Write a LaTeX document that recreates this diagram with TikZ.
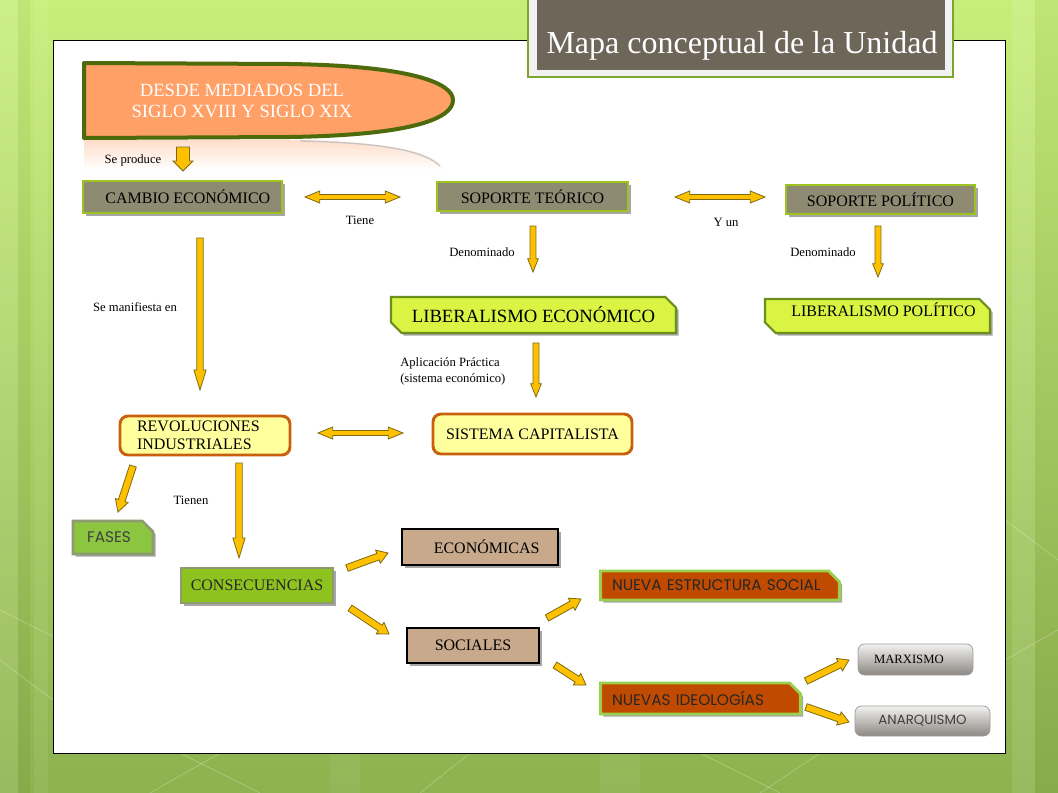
\documentclass[tikz,border=0pt]{standalone}
\usepackage{fontspec}
\setmainfont{Liberation Serif}
\newfontfamily\gothic{Poppins}
\usetikzlibrary{calc,shadows,shapes.misc}
\newdimen\pxu \pxu=0.75pt
\definecolor{bgtop}{HTML}{C8EE7A}
\definecolor{bgbot}{HTML}{8DB24E}
\definecolor{titlebg}{HTML}{6F665A}
\definecolor{titleframe}{HTML}{F2F2F2}
\definecolor{titleline}{HTML}{7DA52B}
\definecolor{desdefill}{HTML}{FFA066}
\definecolor{desdeline}{HTML}{4E6B0B}
\definecolor{kfill}{HTML}{8F8B73}
\definecolor{kborder}{HTML}{9CC31E}
\definecolor{limefill}{HTML}{D9F443}
\definecolor{limeline}{HTML}{6C8E1D}
\definecolor{yelfill}{HTML}{FFFF9E}
\definecolor{yelline}{HTML}{C8600E}
\definecolor{fasesfill}{HTML}{8CC640}
\definecolor{greyline}{HTML}{8E9A70}
\definecolor{consfill}{HTML}{8DC21F}
\definecolor{tanfill}{HTML}{C9A98B}
\definecolor{rustfill}{HTML}{C04B00}
\definecolor{rustline}{HTML}{9BD04E}
\definecolor{arrfill}{HTML}{FFC000}
\definecolor{arrline}{HTML}{7A6B12}
\definecolor{pilltop}{HTML}{F2F2F0}
\definecolor{pillbot}{HTML}{8C8782}
\tikzset{
  arrowst/.style={fill=arrfill, draw=arrline, line width=0.6pt, line join=miter},
  shad/.style={drop shadow={shadow xshift=2pt, shadow yshift=-2pt, opacity=.35, fill=black}},
  boxtext/.style={font=\fontsize{12}{13.5}\selectfont, inner sep=0pt, align=center},
  khaki/.style={boxtext, draw=kborder, fill=kfill, line width=2.2pt, shad},
  lime/.style={boxtext, draw=limeline, fill=limefill, line width=1.6pt, shad,
    chamfered rectangle, chamfered rectangle corners={north east, south west},
    chamfered rectangle xsep=4pt, chamfered rectangle ysep=4pt},
  yel/.style={boxtext, draw=yelline, fill=yelfill, line width=2.2pt, rounded corners=6pt},
  grn/.style={boxtext, draw=greyline, line width=2pt, shad},
  tan/.style={boxtext, draw=black, fill=tanfill, line width=2.2pt, shad},
  rust/.style={boxtext, font=\gothic\fontsize{11.5}{14}\selectfont, text=black!85, draw=rustline, fill=rustfill, line width=2.2pt, shad,
    chamfered rectangle, chamfered rectangle corners={north east}, chamfered rectangle xsep=4pt, chamfered rectangle ysep=4pt, align=left},
  pill/.style={boxtext, draw=gray!75, line width=0.6pt, rounded corners=5pt,
    top color=pilltop, bottom color=pillbot},
  lbl/.style={font=\fontsize{9.5}{11.5}\selectfont, inner sep=0pt, align=left}
}
% block arrow: start, end, half shaft, half head, head length
\newcommand\barrow[5]{%
  \filldraw[arrowst]
    ($(#1)!#3!90:(#2)$) --
    ($($(#2)!#5!(#1)$)!#3!90:(#2)$) --
    ($($(#2)!#5!(#1)$)!#4!90:(#2)$) --
    (#2) --
    ($($(#2)!#5!(#1)$)!#4!-90:(#2)$) --
    ($($(#2)!#5!(#1)$)!#3!-90:(#2)$) --
    ($(#1)!#3!-90:(#2)$) -- cycle;}
\newcommand\dbarrow[5]{%
  \filldraw[arrowst] (#1) --
    ($($(#1)!#5!(#2)$)!#4!90:(#2)$) --
    ($($(#1)!#5!(#2)$)!#3!90:(#2)$) --
    ($($(#2)!#5!(#1)$)!#3!-90:(#1)$) --
    ($($(#2)!#5!(#1)$)!#4!-90:(#1)$) --
    (#2) --
    ($($(#2)!#5!(#1)$)!#4!90:(#1)$) --
    ($($(#2)!#5!(#1)$)!#3!90:(#1)$) --
    ($($(#1)!#5!(#2)$)!#3!-90:(#2)$) --
    ($($(#1)!#5!(#2)$)!#4!-90:(#2)$) -- cycle;}
\begin{document}
\begin{tikzpicture}[x=0.75pt, y=-0.75pt]
\useasboundingbox (0,0) rectangle (1058,793);
% background
\shade[top color=bgtop, bottom color=bgbot] (0,0) rectangle (1058,793);
\fill[white, opacity=.10] (0,0) rectangle (18,793);
\fill[black, opacity=.04] (18,0) rectangle (30,793);
\fill[white, opacity=.08] (34,0) rectangle (48,793);
\fill[white, opacity=.10] (1012,0) rectangle (1035,793);
\fill[black, opacity=.04] (1035,0) rectangle (1058,793);
\fill[white, opacity=.06] (330,753) rectangle (360,793);
\fill[white, opacity=.06] (600,753) rectangle (640,793);
\begin{scope}[white, opacity=.25, line width=0.6pt]
  \draw (0,610) -- (60,640);
  \draw (0,660) -- (53,700);
  \draw (150,793) -- (220,753);
  \draw (420,793) -- (470,753);
  \draw (180,753) -- (260,793);
  \draw (700,753) -- (780,793);
  \draw (760,793) -- (820,753);
  \draw (1005,520) -- (1058,560);
  \draw (1005,660) -- (1058,630);
\end{scope}
% white panel
\fill[white] (53,40) rectangle (1005,753);
\draw[black, line width=0.75pt] (53,40) rectangle (1005,753);
% title
\filldraw[fill=titleframe, draw=titleline, line width=1.2pt] (528,-2) rectangle (953,77);
\fill[titlebg] (537,-2) rectangle (945,70);
\node[text=white, font=\fontsize{24}{28}\selectfont, inner sep=0pt] (title) at (742,45.5) {Mapa conceptual de la Unidad};
% desde shape with reflection
\shade[top color=desdefill!35, bottom color=white] (84,140) -- (300,140) .. controls (400,142) and (440,155) .. (446,170) -- (84,170) -- cycle;
\draw[gray!45, line width=1pt] (300,141) .. controls (390,143) and (425,152) .. (440,166);
\filldraw[fill=desdefill, draw=desdeline, line width=3pt, line join=round]
  (84,63) -- (290,64) .. controls (415,66) and (453,84) .. (453,100)
  .. controls (453,118) and (415,135) .. (290,137) -- (84,138) -- cycle;
\node[text=white, font=\fontsize{14}{15.75}\selectfont, align=center, inner sep=0pt] (desde) at (242,101) {DESDE MEDIADOS DEL\\SIGLO XVIII Y SIGLO XIX};
% nodes
\node[khaki, minimum width=199\pxu, minimum height=32\pxu] (cambio) at (182.5,197) {\hspace*{8pt}CAMBIO ECONÓMICO};
\node[khaki, minimum width=191\pxu, minimum height=29\pxu] (steo) at (532.5,196.5) {SOPORTE TEÓRICO};
\node[khaki, minimum width=189\pxu, minimum height=29\pxu] (spol) at (880.5,199.5) {SOPORTE POLÍTICO};
\node[lime, font=\fontsize{14}{16}\selectfont, minimum width=285\pxu, minimum height=36\pxu] (leco) at (533.5,315) {LIBERALISMO ECONÓMICO};
\node[lime, minimum width=225\pxu, minimum height=34\pxu, text height=8.5pt, text depth=8.5pt] (lpol) at (877.5,316) {\hspace*{9pt}LIBERALISMO POLÍTICO};
\node[yel, minimum height=39\pxu, text width=136\pxu, inner xsep=17\pxu, align=left] (revol) at (205,435.5) {REVOLUCIONES\\INDUSTRIALES};
\node[yel, minimum width=199\pxu, minimum height=40\pxu] (capit) at (532.5,434) {SISTEMA CAPITALISTA};
\node[grn, fill=fasesfill, font=\gothic\fontsize{11.5}{13}\selectfont, text=black!75,
  chamfered rectangle, chamfered rectangle corners={north east}, chamfered rectangle xsep=4pt, chamfered rectangle ysep=4pt,
  minimum width=80\pxu, minimum height=33\pxu] (fases) at (113,537.5) {FASES\hspace*{6pt}};
\node[grn, fill=consfill, text=black!85, minimum width=152\pxu, minimum height=35\pxu] (cons) at (257,585.5) {CONSECUENCIAS};
\node[tan, minimum width=156\pxu, minimum height=36\pxu] (econ) at (480,547) {\hspace*{10pt}ECONÓMICAS};
\node[tan, minimum width=132\pxu, minimum height=35\pxu] (soc) at (473,645.5) {SOCIALES};
\node[rust, minimum height=29\pxu, text width=216\pxu, inner xsep=6\pxu] (nest) at (720,585.5) {\mbox{NUEVA ESTRUCTURA SOCIAL}};
\node[rust, minimum height=31\pxu, text width=177\pxu, inner xsep=6\pxu] (nid) at (700.5,698.5) {\mbox{NUEVAS IDEOLOGÍAS}};
\node[pill, font=\fontsize{9.5}{11}\selectfont, minimum width=115\pxu, minimum height=31\pxu] (marx) at (915.5,659.5) {MARXISMO\hspace*{10pt}};
\node[pill, font=\gothic\fontsize{10}{12}\selectfont, text=black!75, minimum width=135\pxu, minimum height=30\pxu] (anar) at (922.5,721) {ANARQUISMO};
% labels
\node[lbl] (lsep) at (133,160) {Se produce};
\node[lbl] (ltiene) at (360,220) {Tiene};
\node[lbl] (lyun) at (726,222) {Y un};
\node[lbl] (lden1) at (482,252) {Denominado};
\node[lbl] (lden2) at (823,252) {Denominado};
\node[lbl] (lman) at (135,307) {Se manifiesta en};
\node[lbl, anchor=west] (lapl) at (400,371.5) {Aplicación Práctica\\(sistema económico)};
\node[lbl] (ltienen) at (191,500) {Tienen};
% arrow end points
\coordinate (a1s) at (183,147);   \coordinate (a1e) at (183,171);
\coordinate (d1s) at (305,197);   \coordinate (d1e) at (400,197);
\coordinate (d2s) at (675,197);   \coordinate (d2e) at (765,197);
\coordinate (d3s) at (318,433);   \coordinate (d3e) at (403,433);
\coordinate (v1s) at (533,226);   \coordinate (v1e) at (533,272);
\coordinate (v2s) at (878,226);   \coordinate (v2e) at (878,277);
\coordinate (v3s) at (200,238);   \coordinate (v3e) at (200,390);
\coordinate (v4s) at (536,343);   \coordinate (v4e) at (536,397);
\coordinate (v5s) at (239,463);   \coordinate (v5e) at (239,558);
\coordinate (f1s) at (133,466);   \coordinate (f1e) at (118,512);
\coordinate (g1s) at (347,568);   \coordinate (g1e) at (388,553);
\coordinate (g2s) at (350,608);   \coordinate (g2e) at (389,634);
\coordinate (g3s) at (547,618);   \coordinate (g3e) at (581,599);
\coordinate (g4s) at (555,665);   \coordinate (g4e) at (586,685);
\coordinate (g5s) at (806,681);   \coordinate (g5e) at (849,660);
\coordinate (g6s) at (806,707);   \coordinate (g6e) at (849,722);
% arrows
\barrow{a1s}{a1e}{4.9pt}{7.5pt}{7.5pt}
\dbarrow{d1s}{d1e}{1.9pt}{4.5pt}{11pt}
\dbarrow{d2s}{d2e}{1.9pt}{4.5pt}{11pt}
\dbarrow{d3s}{d3e}{1.9pt}{4.5pt}{11pt}
\barrow{v1s}{v1e}{2.2pt}{4pt}{10pt}
\barrow{v2s}{v2e}{2.2pt}{4pt}{10pt}
\barrow{v3s}{v3e}{2.4pt}{4.6pt}{15pt}
\barrow{v4s}{v4e}{2.2pt}{4pt}{10pt}
\barrow{v5s}{v5e}{2.4pt}{4.6pt}{15pt}
\barrow{f1s}{f1e}{2.6pt}{5pt}{9pt}
\barrow{g1s}{g1e}{2.6pt}{5.2pt}{8pt}
\barrow{g2s}{g2e}{2.6pt}{5.2pt}{8pt}
\barrow{g3s}{g3e}{2.6pt}{5.2pt}{8pt}
\barrow{g4s}{g4e}{2.6pt}{5.2pt}{8pt}
\barrow{g5s}{g5e}{2.6pt}{5.2pt}{8pt}
\barrow{g6s}{g6e}{2.6pt}{5.2pt}{8pt}
\end{tikzpicture}
\end{document}
